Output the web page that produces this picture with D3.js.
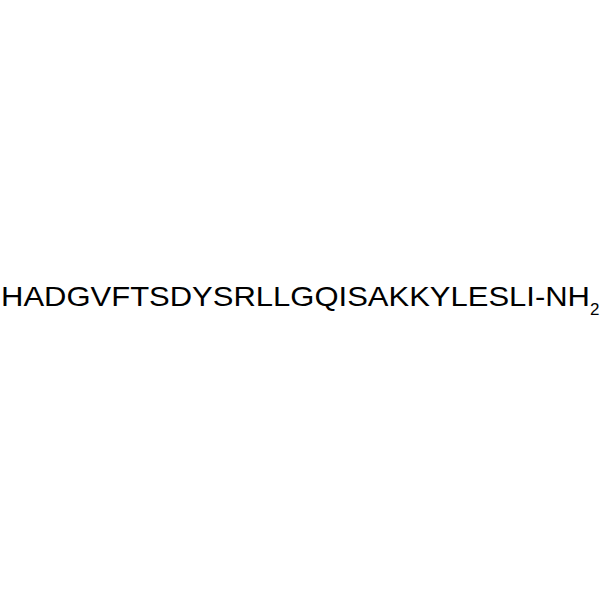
<!DOCTYPE html>
<html><head><meta charset="utf-8">
<script src="https://cdn.jsdelivr.net/npm/d3@7"></script>
<style>html,body{margin:0;padding:0;background:#fff;}</style>
</head><body>
<script>
const sequence = ["HADGVFTSDYSRLLGQISAKKYLESLI-NH"];
const subscripts = ["2"];
const W = 600, H = 600;
const svg = d3.select("body").append("svg").attr("width", W).attr("height", H);
svg.append("rect").attr("width", W).attr("height", H).attr("fill", "#fff");
const t = svg.append("text")
  .attr("y", 306)
  .attr("font-family", "Liberation Sans, Arial, sans-serif")
  .attr("font-size", 28)
  .attr("fill", "#000");
t.append("tspan").attr("x", 1).attr("textLength", 589).attr("lengthAdjust", "spacingAndGlyphs").text(sequence[0]);
t.append("tspan").attr("x", 590).attr("y", 315).attr("font-size", 17).text(subscripts[0]);
</script>
</body></html>
